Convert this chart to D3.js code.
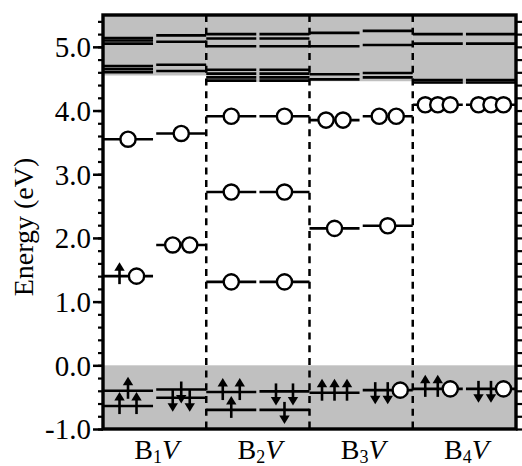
<!DOCTYPE html>
<html>
<head>
<meta charset="utf-8">
<script src="https://cdn.jsdelivr.net/npm/d3@7"></script>
<style>
  html, body { margin: 0; padding: 0; background: #fff; }
  svg { display: block; }
  text { font-family: "Liberation Serif", "Times New Roman", serif; fill: #000; }
</style>
</head>
<body>
<svg id="chart" width="522" height="466"></svg>
<script>
// ---------------- data ----------------
const categories = ["B1V", "B2V", "B3V", "B4V"];
const catBase = ["B", "B", "B", "B"];
const catSub = ["1", "2", "3", "4"];
const catTail = ["V", "V", "V", "V"];
const spins = ["up", "down"];

const yTickValues = [-1, 0, 1, 2, 3, 4, 5];
const yTickLabels = ["-1.0", "0.0", "1.0", "2.0", "3.0", "4.0", "5.0"];
const yDomain = [-1.0, 5.5];
const yTitle = "Energy (eV)";

// valence band top (grey below) and conduction band bottom per system (grey above)
const vbmEnergy = 0.0;
const cbmEnergy = [4.55, 4.45, 4.46, 4.42];

// conduction band levels (inside grey region) per system
const bandLevelsUp = [
  [5.14, 5.10, 5.05, 4.70, 4.65, 4.60],
  [5.20, 5.13, 5.01, 4.64, 4.58, 4.52, 4.47],
  [5.22, 5.01, 4.57, 4.49],
  [5.20, 5.05, 4.48, 4.44]
];
const bandLevelsDown = [
  [5.18, 5.08, 4.72, 4.62],
  [5.20, 5.13, 5.01, 4.64, 4.58, 4.52, 4.47],
  [5.25, 5.03, 4.59, 4.52],
  [5.20, 5.05, 4.48, 4.44]
];

// defect levels: [energy, occupation] ; u = spin-up electron, d = spin-down electron, o = empty state
const defectUp = [
  [[3.55, "o"], [1.40, "uo"], [-0.40, "u"], [-0.64, "uu"]],
  [[3.91, "o"], [2.72, "o"], [1.31, "o"], [-0.42, "uu"], [-0.70, "u"]],
  [[3.85, "oo"], [2.15, "o"], [-0.43, "uuu"]],
  [[4.09, "ooo"], [-0.37, "uuo"]]
];
const defectDown = [
  [[3.64, "o"], [1.89, "oo"], [-0.38, "d"], [-0.51, "dd"]],
  [[3.91, "o"], [2.72, "o"], [1.31, "o"], [-0.41, "dd"], [-0.70, "d"]],
  [[3.91, "oo"], [2.19, "o"], [-0.39, "ddo"]],
  [[4.09, "ooo"], [-0.37, "ddo"]]
];

// ---------------- layout ----------------
const svg = d3.select("#chart");
const mLeft = 103, mRight = 516, mTop = 15, mBottom = 429;
const grey = "#c0c0c0";

const x = d3.scaleBand().domain(categories).range([mLeft, mRight]).padding(0);
const xs = d3.scaleBand().domain(spins).range([0, x.bandwidth()]).paddingInner(0.06).paddingOuter(0);
const y = d3.scaleLinear().domain(yDomain).range([mBottom, mTop]);

const g = svg.append("g");

// grey valence region
g.append("rect")
  .attr("x", mLeft).attr("width", mRight - mLeft)
  .attr("y", y(vbmEnergy)).attr("height", y(yDomain[0]) - y(vbmEnergy))
  .attr("fill", grey);

// grey conduction regions
g.selectAll("rect.cb").data(categories).join("rect")
  .attr("class", "cb")
  .attr("x", d => x(d)).attr("width", x.bandwidth())
  .attr("y", y(yDomain[1]))
  .attr("height", (d, i) => y(cbmEnergy[i]) - y(yDomain[1]))
  .attr("fill", grey);

// band levels
const bandSegs = [];
categories.forEach((c, i) => {
  bandLevelsUp[i].forEach(e => bandSegs.push({ c, s: "up", e }));
  bandLevelsDown[i].forEach(e => bandSegs.push({ c, s: "down", e }));
});
g.selectAll("line.band").data(bandSegs).join("line")
  .attr("class", "band")
  .attr("x1", d => x(d.c) + xs(d.s)).attr("x2", d => x(d.c) + xs(d.s) + xs.bandwidth())
  .attr("y1", d => y(d.e)).attr("y2", d => y(d.e))
  .attr("stroke", "#000").attr("stroke-width", 2.6);

// defect levels
const defSegs = [];
categories.forEach((c, i) => {
  defectUp[i].forEach(([e, occ]) => defSegs.push({ c, s: "up", e, occ }));
  defectDown[i].forEach(([e, occ]) => defSegs.push({ c, s: "down", e, occ }));
});
g.selectAll("line.def").data(defSegs).join("line")
  .attr("class", "def")
  .attr("x1", d => x(d.c) + xs(d.s)).attr("x2", d => x(d.c) + xs(d.s) + xs.bandwidth())
  .attr("y1", d => y(d.e)).attr("y2", d => y(d.e))
  .attr("stroke", "#000").attr("stroke-width", 2.6);

// markers
const markers = [];
defSegs.forEach(d => {
  const n = d.occ.length;
  const sp = n === 3 ? 12.5 : 17;
  const cx = x(d.c) + xs(d.s) + xs.bandwidth() / 2;
  d.occ.split("").forEach((k, j) => {
    markers.push({ k, x: cx + (j - (n - 1) / 2) * sp, y: y(d.e) });
  });
});

// arrows
const arrows = markers.filter(m => m.k !== "o");
const ag = g.selectAll("g.arrow").data(arrows).join("g")
  .attr("class", "arrow")
  .attr("transform", d => `translate(${d.x},${d.y}) scale(1,${d.k === "u" ? 1 : -1})`);
ag.append("line")
  .attr("x1", 0).attr("x2", 0).attr("y1", 8).attr("y2", -7)
  .attr("stroke", "#000").attr("stroke-width", 2.6);
ag.append("path")
  .attr("d", "M0,-14 L5.2,-5.5 L-5.2,-5.5 Z")
  .attr("fill", "#000");

// empty states
g.selectAll("circle.empty").data(markers.filter(m => m.k === "o")).join("circle")
  .attr("class", "empty")
  .attr("cx", d => d.x).attr("cy", d => d.y).attr("r", 7.6)
  .attr("fill", "#fff").attr("stroke", "#000").attr("stroke-width", 2.4);

// dashed separators
g.selectAll("line.sep").data(categories.slice(1)).join("line")
  .attr("class", "sep")
  .attr("x1", d => x(d)).attr("x2", d => x(d))
  .attr("y1", mTop).attr("y2", mBottom)
  .attr("stroke", "#000").attr("stroke-width", 2.5)
  .attr("stroke-dasharray", "7,5.7");

// left axis
const yMinor = d3.range(yDomain[0], yDomain[1] + 1e-6, 0.2);
svg.append("g").attr("transform", `translate(${mLeft},0)`)
  .call(d3.axisLeft(y).tickValues(yMinor).tickSize(5).tickFormat(""))
  .call(a => a.select(".domain").remove())
  .call(a => a.selectAll("line").attr("stroke-width", 2.2));
svg.append("g").attr("transform", `translate(${mLeft},0)`)
  .call(d3.axisLeft(y).tickValues(yTickValues).tickSize(10).tickPadding(2)
    .tickFormat((d, i) => yTickLabels[i]))
  .call(a => a.select(".domain").remove())
  .call(a => a.selectAll("line").attr("stroke-width", 2.5))
  .call(a => a.selectAll("text")
    .attr("font-family", "'Liberation Serif', 'Times New Roman', serif")
    .attr("font-size", 29).attr("fill", "#000").attr("dy", "0.34em"));

// right axis
svg.append("g").attr("transform", `translate(${mRight},0)`)
  .call(d3.axisRight(y).tickValues(yMinor).tickSize(6).tickFormat(""))
  .call(a => a.select(".domain").remove())
  .call(a => a.selectAll("line").attr("stroke-width", 2.2));

// frame
svg.append("rect")
  .attr("x", mLeft).attr("y", mTop).attr("width", mRight - mLeft).attr("height", mBottom - mTop)
  .attr("fill", "none").attr("stroke", "#000").attr("stroke-width", 3.4);

// y title
svg.append("text")
  .attr("transform", `translate(33,${(mTop + mBottom) / 2 + 5}) rotate(-90)`)
  .attr("text-anchor", "middle")
  .attr("font-size", 28)
  .text(yTitle);

// x labels
const xl = svg.selectAll("text.xl").data(categories).join("text")
  .attr("class", "xl")
  .attr("x", d => x(d) + x.bandwidth() / 2 + 2)
  .attr("y", 459)
  .attr("text-anchor", "middle")
  .attr("font-size", 28);
xl.append("tspan").text((d, i) => catBase[i]);
xl.append("tspan").attr("font-size", 18).attr("dy", 4).text((d, i) => catSub[i]);
xl.append("tspan").attr("font-style", "italic").attr("dy", -4).text((d, i) => catTail[i]);
</script>
</body>
</html>
